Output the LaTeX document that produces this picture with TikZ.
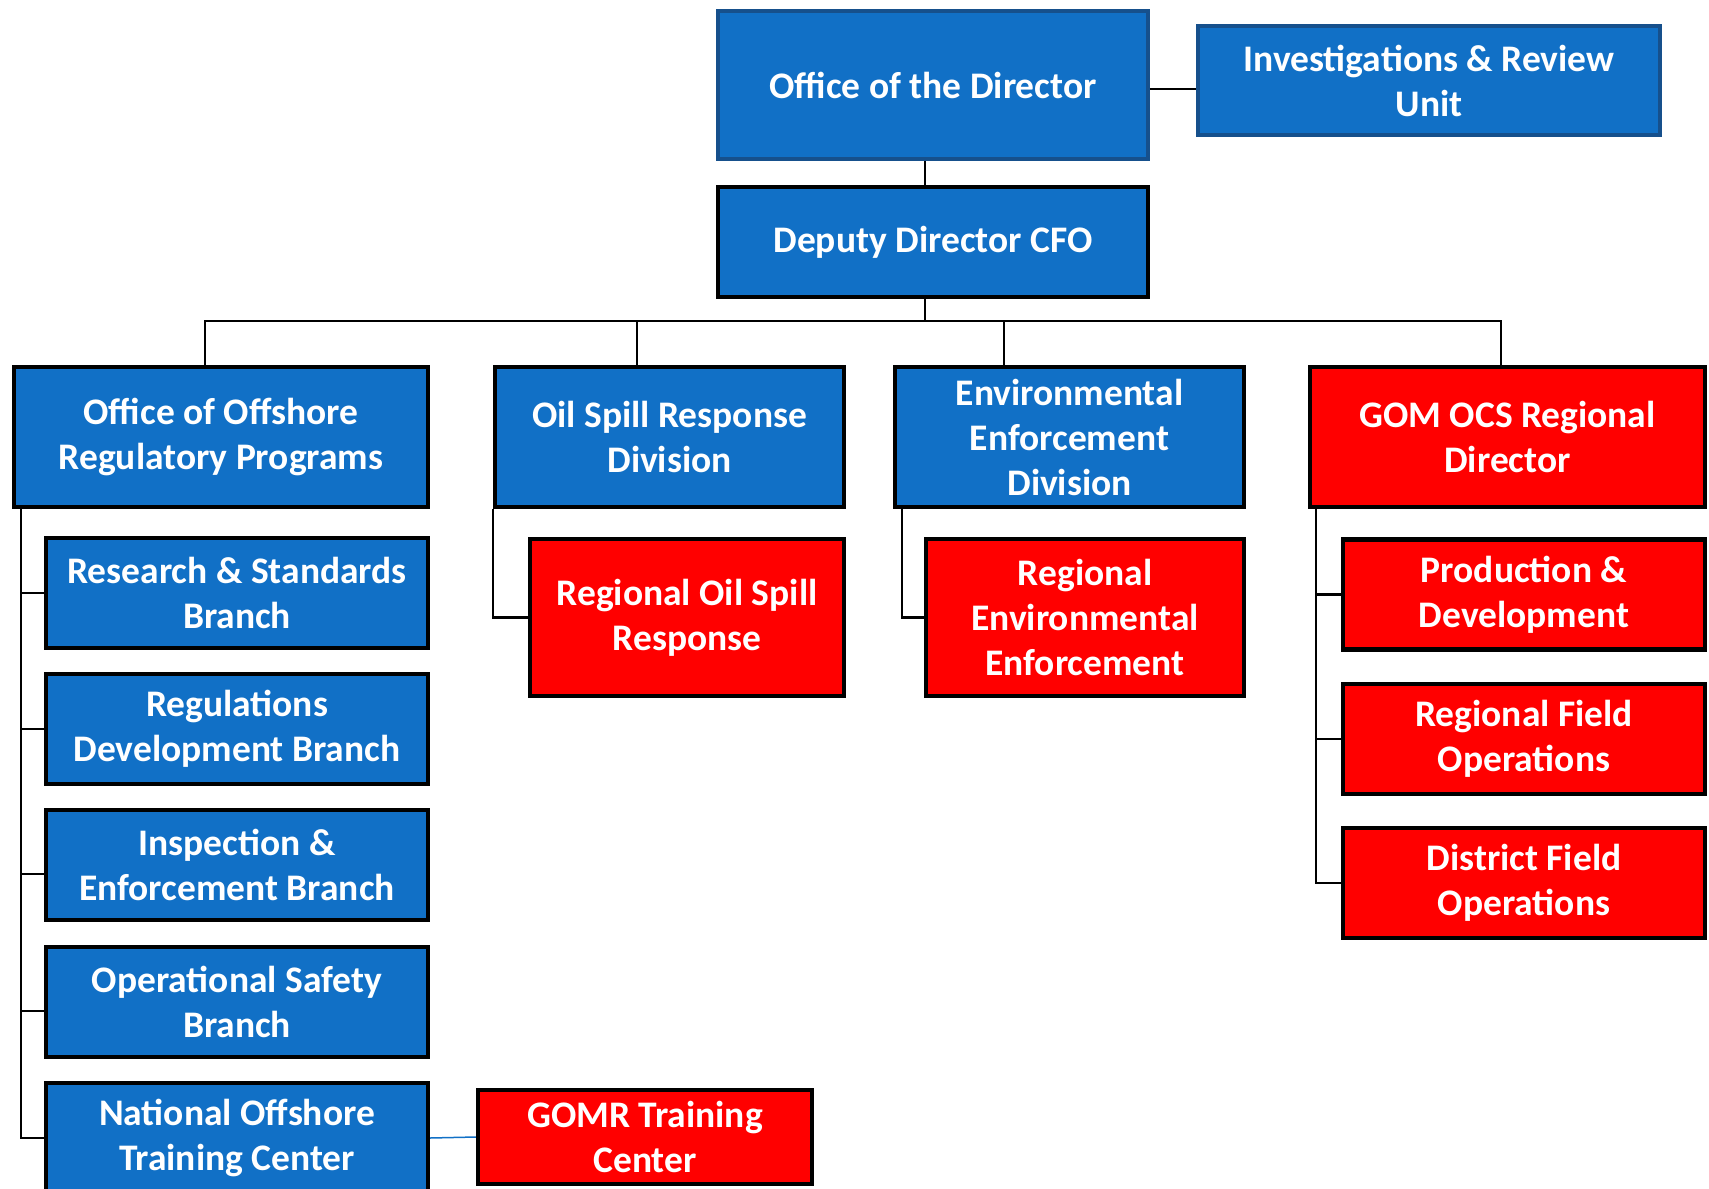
\documentclass[tikz,border=0pt]{standalone}
\usepackage{fontspec}
\setmainfont{Carlito}
\usetikzlibrary{positioning}
\definecolor{unitblue}{RGB}{17,112,198}
\definecolor{unitred}{RGB}{255,0,0}
\definecolor{rimblue}{RGB}{22,80,140}
\tikzset{
    x=1pt,
    y=-1pt,
    office/.style = {
        draw,
        shape=rectangle,
        fill=unitblue,
        text=white,
        font=\fontsize{37.5}{45}\selectfont\bfseries,
        align=center,
        inner sep=0pt,
        line width=4.2pt
    },
    head/.style = {
        office,
        draw=rimblue,
        line width=3.5pt
    },
    region/.style = {
        office,
        fill=unitred
    },
    division/.style = {
        minimum height=140pt
    },
    branch/.style = {
        minimum width=382pt,
        minimum height=110pt
    },
    link/.style = {
        draw,
        line width=2.4pt
    },
}
\begin{document}
\begin{tikzpicture}
            \useasboundingbox (0,0) rectangle (1709,1189);

            \node[head, minimum width=430pt, minimum height=148pt] (dir) at (933,85) {Office of the Director};
            \node[head, minimum width=462pt, minimum height=109pt] (iru) at (1429,80.5) {Investigations \& Review\\Unit};
            \node[office, minimum width=430pt, minimum height=110pt] (ddc) at (933,242) {Deputy Director CFO};

            \node[office, division, minimum width=414pt] (oorp) at (221,437) {Office of Offshore\\Regulatory Programs};
            \node[office, division, minimum width=349pt] (osrd) at (669.5,437) {Oil Spill Response\\Division};
            \node[office, division, minimum width=349pt] (eed) at (1069.5,437) {Environmental\\Enforcement\\Division};
            \node[region, division, minimum width=395pt] (gom) at (1507.5,437) {GOM OCS Regional\\Director};

            \node[office, branch] (rsb) at (237,593) {Research \& Standards\\Branch};
            \node[office, branch] (rdb) at (237,729) {Regulations\\Development Branch};
            \node[office, branch] (ieb) at (237,865) {Inspection \&\\Enforcement Branch};
            \node[office, branch] (osb) at (237,1002) {Operational Safety\\Branch};
            \node[office, branch] (notc) at (237,1138) {National Offshore\\Training Center};
            \node[region, minimum width=334pt, minimum height=94pt] (gtc) at (645,1137) {GOMR Training\\Center};

            \node[region, minimum width=314pt, minimum height=157pt] (ros) at (687,617.5) {Regional Oil Spill\\Response};
            \node[region, minimum width=318pt, minimum height=157pt] (ree) at (1085,617.5) {Regional\\Environmental\\Enforcement};

            \node[region, branch, minimum width=362pt] (pd) at (1524,594.5) {Production \&\\Development};
            \node[region, branch, minimum width=362pt] (rfo) at (1524,739) {Regional Field\\Operations};
            \node[region, branch, minimum width=362pt] (dfo) at (1524,883) {District Field\\Operations};

            \coordinate (hub) at (925,321);
            \coordinate (lspine) at ([xshift=9pt]oorp.south west);
            \coordinate (rspine) at ([xshift=8pt]gom.south west);

            \path[link] (hub |- dir.south) -- (hub |- ddc.north);
            \path[link] ([yshift=-4pt]dir.east) -- ([yshift=-4pt]dir.east -| iru.west);
            \path[link] (hub |- ddc.south) -- (hub);
            \path[link] ([xshift=-16pt]oorp.north) |- (hub) -| ([xshift=-6.5pt]gom.north);
            \path[link] (hub) -| ([xshift=-32.5pt]osrd.north);
            \path[link] (hub) -| ([xshift=-65.5pt]eed.north);

            \foreach \n/\s in {rsb/0,rdb/0,ieb/-9,osb/-9,notc/0}
                \path[link] ([yshift=\s pt]\n.west) -| (lspine);
            \path[link, draw=unitblue, line width=1.5pt] (notc.east) -- (gtc.west);

            \path[link] (ros.west) -| (osrd.south west);
            \path[link] (ree.west) -| ([xshift=9pt]eed.south west);

            \foreach \n in {pd,rfo,dfo}
                \path[link] (\n.west) -| (rspine);

        \end{tikzpicture}
\end{document}
